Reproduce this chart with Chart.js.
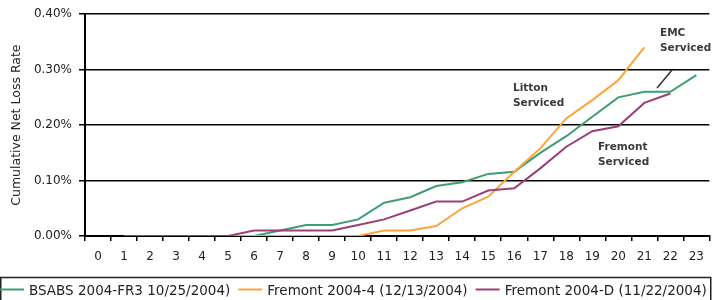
<!DOCTYPE html>
<html>
<head>
<meta charset="utf-8">
<script src="https://cdn.jsdelivr.net/npm/chart.js@4.4.0/dist/chart.umd.min.js"></script>
<style>
  html, body { margin: 0; padding: 0; background: #fff; }
</style>
</head>
<body>
<canvas id="myChart" width="713" height="300"></canvas>
<script>
// months since issue
const months = ["0","1","2","3","4","5","6","7","8","9","10","11","12","13","14","15","16","17","18","19","20","21","22","23"];

// cumulative net loss, in percent
const bsabs = [null, 0, 0, 0, 0, 0, 0, 0.01, 0.02, 0.02, 0.03, 0.06, 0.07, 0.09, 0.097, 0.112, 0.116, 0.15, 0.18, 0.215, 0.25, 0.26, 0.26, 0.29];
const fremont4 = [null, 0, 0, 0, 0, 0, 0, 0, 0, 0, 0, 0.01, 0.01, 0.018, 0.05, 0.071, 0.116, 0.158, 0.212, 0.245, 0.281, 0.34, null, null];
const fremontD = [null, 0, 0, 0, 0, 0, 0.01, 0.01, 0.01, 0.01, 0.02, 0.03, 0.046, 0.062, 0.062, 0.082, 0.086, 0.122, 0.161, 0.189, 0.198, 0.24, 0.257, null];

const yTicks = [0, 0.1, 0.2, 0.3, 0.4];

const FONT = "DejaVu Sans";
const TXT = "#222";

// notes on the chart
const notes = [
  { lines: ["EMC", "Serviced"], x: 660, y: 33 },
  { lines: ["Litton", "Serviced"], x: 513, y: 88 },
  { lines: ["Fremont", "Serviced"], x: 598, y: 147 }
];

const notesPlugin = {
  id: "notes",
  afterDatasetsDraw(chart) {
    const ctx = chart.ctx;
    ctx.save();
    ctx.fillStyle = "#3a3a3a";
    ctx.font = "bold 10.5px " + FONT;
    ctx.textBaseline = "middle";
    ctx.textAlign = "left";
    notes.forEach(n => {
      n.lines.forEach((l, i) => ctx.fillText(l, n.x, n.y + i * 15));
    });
    // pointer under EMC note
    ctx.strokeStyle = "#333";
    ctx.lineWidth = 1.5;
    ctx.beginPath();
    ctx.moveTo(672, 70);
    ctx.lineTo(657, 88);
    ctx.stroke();
    ctx.restore();
  }
};

// legend drawn by hand so it sits in the boxed strip at the bottom
const legendPlugin = {
  id: "boxLegend",
  afterDraw(chart) {
    const ctx = chart.ctx;
    ctx.save();
    ctx.strokeStyle = "#222";
    ctx.lineWidth = 1.5;
    ctx.strokeRect(0.75, 277.5, 710, 30);
    ctx.font = "13.5px " + FONT;
    ctx.textBaseline = "middle";
    let x = 0;
    chart.data.datasets.forEach(ds => {
      ctx.strokeStyle = ds.borderColor;
      ctx.lineWidth = 2;
      ctx.beginPath();
      ctx.moveTo(x, 289.5);
      ctx.lineTo(x + 24, 289.5);
      ctx.stroke();
      ctx.fillStyle = TXT;
      ctx.fillText(ds.label, x + 29, 291);
      x += 29 + ctx.measureText(ds.label).width + 8;
    });
    ctx.restore();
  }
};

const ctx = document.getElementById("myChart").getContext("2d");
const myChart = new Chart(ctx, {
  type: "line",
  data: {
    labels: months,
    datasets: [
      { label: "BSABS 2004-FR3 10/25/2004)", data: bsabs, borderColor: "#3f9e70", order: 2 },
      { label: "Fremont 2004-4 (12/13/2004)", data: fremont4, borderColor: "#fba43a", order: 1 },
      { label: "Fremont 2004-D (11/22/2004)", data: fremontD, borderColor: "#9c3e78", order: 0 }
    ]
  },
  options: {
    responsive: false,
    animation: false,
    devicePixelRatio: 1,
    layout: { padding: { top: 14, right: 0, bottom: 0, left: 0 } },
    elements: {
      line: { borderWidth: 2, tension: 0, fill: false },
      point: { radius: 0 }
    },
    plugins: {
      legend: { display: false },
      tooltip: { enabled: false }
    },
    scales: {
      x: {
        offset: true,
        grid: { offset: true, drawOnChartArea: false, color: "#000", lineWidth: 1.5, tickLength: 5 },
        border: { color: "#000", width: 2 },
        ticks: { color: TXT, font: { family: FONT, size: 12 }, padding: 9, maxRotation: 0, autoSkip: false },
        afterFit(scale) { scale.height = 64; }
      },
      y: {
        min: 0,
        max: 0.4,
        afterBuildTicks(scale) { scale.ticks = yTicks.map(v => ({ value: v })); },
        grid: { color: "#000", lineWidth: 1.5, tickLength: 6 },
        border: { color: "#000", width: 2 },
        ticks: {
          color: TXT,
          font: { family: FONT, size: 12 },
          padding: 7,
          callback: v => v.toFixed(2) + "%"
        },
        title: {
          display: true,
          text: "Cumulative Net Loss Rate",
          color: TXT,
          font: { family: FONT, size: 12.5 },
          padding: { top: 9, bottom: 0 }
        },
        afterFit(scale) { scale.width = 85; }
      }
    }
  },
  plugins: [notesPlugin, legendPlugin]
});
</script>
</body>
</html>
